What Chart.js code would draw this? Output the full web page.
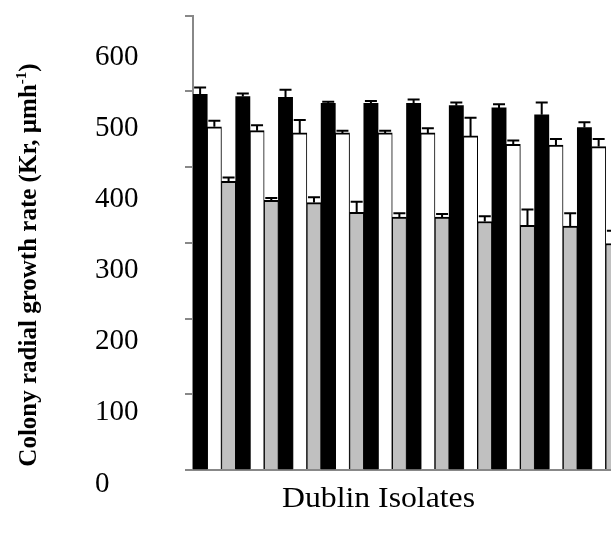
<!DOCTYPE html>
<html><head><meta charset="utf-8">
<script src="https://cdn.jsdelivr.net/npm/chart.js@4/dist/chart.umd.min.js"></script>
<style>
html,body{margin:0;padding:0;overflow:hidden;background:#fff;width:611px;height:539px}
#wrap{position:absolute;left:0;top:0;width:623px;height:539px}
canvas{display:block}
</style></head><body>
<div id="wrap"><canvas id="c" width="623" height="539"></canvas></div>
<script>
// ---- data ----
const categories = ['1','2','3','4','5','6','7','8','9','10'];
const seriesBlack = [496, 493, 492, 484, 484, 484, 481, 478, 469, 452];
const errBlack    = [9, 4, 10, 2, 3, 5, 4, 5, 16, 7];
const seriesWhite = [453, 448, 445, 445, 445, 445, 441, 430, 429, 427];
const errWhite    = [8, 7, 17, 3, 3, 6, 24, 5, 8, 10];
const seriesGray  = [381, 356, 353, 340, 334, 334, 328, 323, 322, 299];
const errGray     = [5, 3, 7, 14, 5, 4, 7, 21, 17, 17];
const yTickLabels = [0, 100, 200, 300, 400, 500, 600];
const yTitleMain = 'Colony radial growth rate (Kr, µmh';
const yTitleSup = '-1';
const yTitleEnd = ')';
const xTitle = 'Dublin Isolates';

const SERIF = '"Liberation Serif", "Times New Roman", serif';

const errorBars = {
  id: 'errorBars',
  afterDatasetsDraw(chart) {
    const ctx = chart.ctx;
    const ys = chart.scales.y;
    ctx.save();
    ctx.strokeStyle = '#000';
    ctx.lineWidth = 2;
    chart.data.datasets.forEach((ds, i) => {
      const meta = chart.getDatasetMeta(i);
      meta.data.forEach((el, j) => {
        const v = ds.data[j], e = ds.errors[j];
        const y0 = ys.getPixelForValue(v);
        const y1 = ys.getPixelForValue(v + e);
        const x = el.x;
        ctx.beginPath();
        ctx.moveTo(x, y0); ctx.lineTo(x, y1);
        ctx.moveTo(x - 6, y1); ctx.lineTo(x + 6, y1);
        ctx.stroke();
      });
    });
    ctx.restore();
  }
};

const axisTitles = {
  id: 'axisTitles',
  afterDraw(chart) {
    const ctx = chart.ctx;
    ctx.save();
    ctx.fillStyle = '#000';
    ctx.translate(28, 265);
    ctx.rotate(-Math.PI / 2);
    const fMain = 'bold 25px ' + SERIF, fSup = 'bold 15px ' + SERIF;
    ctx.font = fMain; const w1 = ctx.measureText(yTitleMain).width; const w3 = ctx.measureText(yTitleEnd).width;
    ctx.font = fSup; const w2 = ctx.measureText(yTitleSup).width;
    let x = -(w1 + w2 + w3) / 2;
    ctx.textBaseline = 'alphabetic';
    ctx.textAlign = 'left';
    const base = 8;
    ctx.font = fMain; ctx.fillText(yTitleMain, x, base); x += w1;
    ctx.font = fSup; ctx.fillText(yTitleSup, x, base - 10); x += w2;
    ctx.font = fMain; ctx.fillText(yTitleEnd, x, base);
    ctx.restore();
    ctx.save();
    ctx.fillStyle = '#000';
    ctx.font = '30px ' + SERIF;
    const wx = ctx.measureText(xTitle).width;
    const sx = 193 / wx;
    ctx.translate(378.5, 507);
    ctx.scale(sx, 1);
    ctx.textAlign = 'center';
    ctx.textBaseline = 'alphabetic';
    ctx.fillText(xTitle, 0, 0);
    ctx.restore();
  }
};

new Chart(document.getElementById('c'), {
  type: 'bar',
  data: {
    labels: categories,
    datasets: [
      { label: 'Series 1', data: seriesBlack, errors: errBlack, backgroundColor: '#000', borderColor: '#000', borderWidth: 0 },
      { label: 'Series 2', data: seriesWhite, errors: errWhite, backgroundColor: '#fff', borderColor: '#000', borderWidth: {top: 2, left: 1, right: 1, bottom: 0} },
      { label: 'Series 3', data: seriesGray, errors: errGray, backgroundColor: '#c0c0c0', borderColor: '#000', borderWidth: {top: 2, left: 1, right: 1, bottom: 0} }
    ]
  },
  options: {
    responsive: false,
    animation: false,
    devicePixelRatio: 1,
    datasets: { bar: { categoryPercentage: 1, barPercentage: 1 } },
    layout: { padding: { left: 95, top: 15.5, right: 3, bottom: 0 } },
    plugins: { legend: { display: false }, tooltip: { enabled: false } },
    scales: {
      x: {
        grid: { display: false },
        ticks: { display: false },
        border: { color: '#888', width: 2 },
        afterFit(s) { s.height = 69; }
      },
      y: {
        position: 'left', weight: 0,
        min: 0, max: 600,
        ticks: { display: false, stepSize: 100 },
        grid: { drawOnChartArea: false, drawTicks: true, tickLength: 8, color: '#888', lineWidth: 2 },
        border: { color: '#888', width: 2 },
        afterFit(s) { s.width = 8; }
      },
      yl: {
        position: 'left', weight: 1,
        min: 0, max: 638.6,
        grid: { display: false },
        border: { display: false },
        afterBuildTicks(s) { s.ticks = yTickLabels.map(v => ({ value: v })); },
        ticks: { crossAlign: 'far', labelOffset: 14, autoSkip: false, color: '#000', font: { family: SERIF, size: 29 } },
        afterFit(s) { s.width = 90; s.paddingTop = 0; s.paddingBottom = 0; }
      }
    }
  },
  plugins: [errorBars, axisTitles]
});
</script>
</body></html>
